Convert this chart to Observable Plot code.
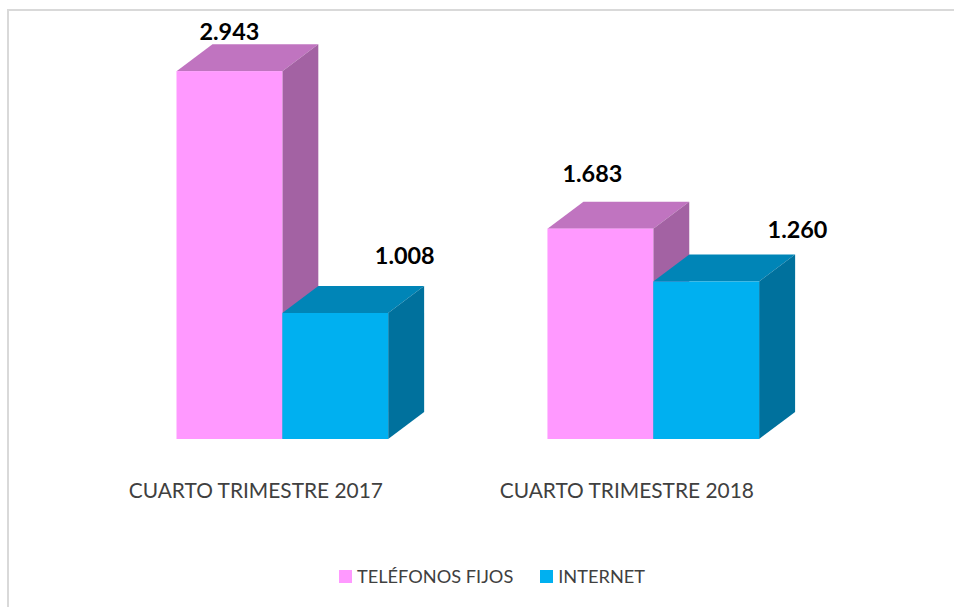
<!DOCTYPE html>
<html>
<head>
<meta charset="utf-8">
<script src="https://cdn.jsdelivr.net/npm/d3@7"></script>
<script src="https://cdn.jsdelivr.net/npm/@observablehq/plot@0.6"></script>
<style>
  html, body { margin: 0; padding: 0; background: #fff; overflow: hidden; }
  #chart { position: relative; width: 954px; height: 607px; font-family: Lato, sans-serif; }
  #frame { position: absolute; left: 7px; top: 9px; right: 0; bottom: 0; border-left: 2px solid #d9d9d9; border-top: 2px solid #d9d9d9; }
  #plot { position: absolute; left: 0; top: 0; }
  #plot svg { display: block; background: transparent; }
  #legend { position: absolute; left: 339px; top: 562px; height: 28px; display: flex; align-items: center; font-size: 18.2px; color: #404040; white-space: nowrap; }
  #legend i { display: inline-block; width: 13px; height: 13px; margin-right: 5px; }
  #legend span { margin-right: 27px; }
</style>
</head>
<body>
<div id="chart"><div id="frame"></div><div id="plot"></div><div id="legend"></div></div>
<script>
const periods = ["CUARTO TRIMESTRE 2017", "CUARTO TRIMESTRE 2018"];
const seriesNames = ["TELÉFONOS FIJOS", "INTERNET"];
const telefonosFijos = [2943, 1683];
const internet = [1008, 1260];
const seriesValues = [telefonosFijos, internet];
const valueLabels = [["2.943", "1.683"], ["1.008", "1.260"]];

const frontColors = ["#FF99FF", "#00B0F0"];
const topColors = ["#C074C0", "#0085B7"];
const sideColors = ["#A362A3", "#00719D"];

// Layout in scale units (x: one bar width; y: value units)
const groupStarts = [0, 3.505];
const depthX = 0.34, depthY = 216;
const labelShiftX = [[-0.005, -0.08], [0.652, 0.858]];
const labelShiftY = [[313, 437], [456, 412]];

const bars = seriesNames.flatMap((name, s) => periods.map((period, g) => ({
  s, g, key: s + "-" + g, x1: groupStarts[g] + s, x2: groupStarts[g] + s + 1, value: seriesValues[s][g]
})));
const sideRows = bars.flatMap(b => [
  {s: b.s, key: b.key, x: b.x2, y1: 0, y2: b.value},
  {s: b.s, key: b.key, x: b.x2 + depthX, y1: depthY, y2: b.value + depthY}
]);
const topRows = bars.flatMap(b => [
  {s: b.s, key: b.key, y: b.value, xa: b.x1, xb: b.x2},
  {s: b.s, key: b.key, y: b.value + depthY, xa: b.x1 + depthX, xb: b.x2 + depthX}
]);
const labels = bars.map(b => ({
  text: valueLabels[b.s][b.g],
  x: (b.x1 + b.x2) / 2 + labelShiftX[b.s][b.g],
  y: b.value + labelShiftY[b.s][b.g]
}));

const seriesMarks = seriesNames.flatMap((name, s) => [
  Plot.area(topRows.filter(d => d.s === s), {y1: "y", x1: "xa", x2: "xb", z: "key", fill: topColors[s]}),
  Plot.area(sideRows.filter(d => d.s === s), {x1: "x", y1: "y1", y2: "y2", z: "key", fill: sideColors[s]}),
  Plot.rectY(bars.filter(d => d.s === s), {x1: "x1", x2: "x2", y1: 0, y2: "value", fill: frontColors[s]})
]);

const plot = Plot.plot({
  width: 954,
  height: 545,
  marginLeft: 176.5,
  marginRight: 142.5,
  marginTop: 0,
  marginBottom: 106,
  style: {background: "transparent", fontFamily: "Lato, sans-serif"},
  x: {domain: [0, 6]},
  y: {domain: [0, 3512]},
  marks: [
    ...seriesMarks,
    Plot.text(labels, {x: "x", y: "y", text: "text", fontSize: 23.4, fontWeight: 700, fill: "#000"}),
    Plot.axisX({
      ticks: groupStarts.map(d => d + 0.745),
      tickFormat: (d, i) => periods[i],
      tickSize: 0,
      tickPadding: 44,
      fontSize: 20.9,
      color: "#404040",
      label: null
    }),
    Plot.axisY({ticks: [], label: null, tickSize: 0})
  ]
});
document.getElementById("plot").appendChild(plot);

const legend = document.getElementById("legend");
seriesNames.forEach((name, s) => {
  const sw = document.createElement("i");
  sw.style.background = frontColors[s];
  const tx = document.createElement("span");
  tx.textContent = name;
  legend.append(sw, tx);
});
</script>
</body>
</html>
